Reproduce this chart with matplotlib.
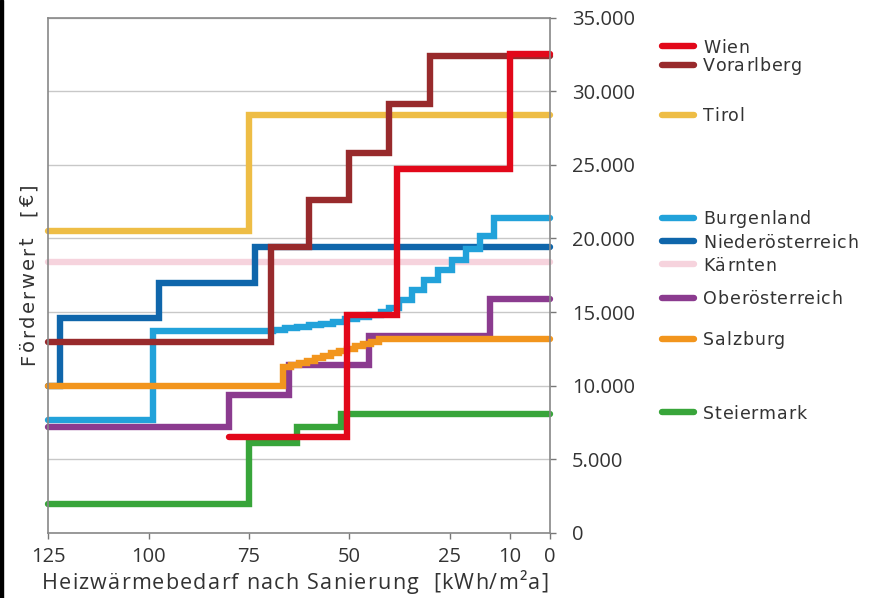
import numpy as np
import matplotlib
matplotlib.use('Agg')
import matplotlib.pyplot as plt
from matplotlib.patches import Rectangle
from matplotlib.ticker import FuncFormatter

# Heizwärmebedarf edges (kWh/m²a, from high to low) and Förderwert (EUR) per step
wien_x = [80, 50.5, 38, 10, 0]
wien_y = [6500, 14800, 24700, 32500]

vorarlberg_x = [125, 69.5, 60, 50, 40, 30, 0]
vorarlberg_y = [13000, 19400, 22600, 25800, 29100, 32400]

tirol_x = [125, 75, 0]
tirol_y = [20500, 28400]

burgenland_x = [125, 99, 69, 66, 63, 60, 57, 54, 51, 48, 45, 42, 40,
                37.5, 34.5, 31.5, 28, 24.5, 21, 17.5, 14, 0]
burgenland_y = [7700, 13700, 13800, 13900, 14000, 14100, 14200, 14350,
                14500, 14650, 14800, 15000, 15300, 15800, 16500, 17200,
                17850, 18550, 19250, 20150, 21400]

noe_x = [125, 122, 97.5, 73.5, 0]
noe_y = [10000, 14600, 17000, 19400]

kaernten_x = [125, 0]
kaernten_y = [18400]

ooe_x = [125, 80, 65, 45, 15, 0]
ooe_y = [7200, 9400, 11400, 13400, 15900]

salzburg_x = [125, 66.5, 64.5, 62.5, 60.5, 58.5, 56.5, 54.5, 52.5, 50.5,
              48.5, 46.5, 44.5, 42.5, 0]
salzburg_y = [10000, 11250, 11400, 11550, 11700, 11850, 12000, 12200,
              12350, 12500, 12700, 12850, 13000, 13200]

steiermark_x = [125, 75, 63, 52, 0]
steiermark_y = [2000, 6100, 7200, 8100]

x_ticks = [125, 100, 75, 50, 25, 10, 0]
y_ticks = [0, 5000, 10000, 15000, 20000, 25000, 30000, 35000]

# (name, x, y, colour, legend position in EUR)
series = [
    ('Kärnten', kaernten_x, kaernten_y, '#f6d3dd', 18250),
    ('Tirol', tirol_x, tirol_y, '#eebd45', 28400),
    ('Niederösterreich', noe_x, noe_y, '#0f66ab', 19800),
    ('Burgenland', burgenland_x, burgenland_y, '#22a2da', 21400),
    ('Vorarlberg', vorarlberg_x, vorarlberg_y, '#982a2c', 31800),
    ('Oberösterreich', ooe_x, ooe_y, '#8b3b8f', 15950),
    ('Steiermark', steiermark_x, steiermark_y, '#38a53a', 8200),
    ('Salzburg', salzburg_x, salzburg_y, '#f2951d', 13180),
    ('Wien', wien_x, wien_y, '#e2081a', 33050),
]

W, H = 879, 598
fig = plt.figure(figsize=(W / 100, H / 100), dpi=100)
ax = fig.add_axes([48.3 / W, 1 - 533 / H, (550 - 48.3) / W, (533 - 17.5) / H])
renderer = fig.canvas.get_renderer()


def advance(ch, **kw):
    # width a character adds between two x's
    t1 = fig.text(0, 0, 'x' + ch + 'x', **kw)
    t2 = fig.text(0, 0, 'xx', **kw)
    w = t1.get_window_extent(renderer).width - t2.get_window_extent(renderer).width
    t1.remove()
    t2.remove()
    return w


def spaced_text(px, py, s, track, rotation=0, center=False, **kw):
    # letter-spaced text, px/py in pixels from bottom-left, py is the baseline
    advs = [advance(c, **kw) for c in s]
    total = sum(advs) + track * (len(s) - 1)
    pos = -total / 2 if center else 0
    for c, a in zip(s, advs):
        x, y = (px + pos, py) if rotation == 0 else (px, py + pos)
        fig.text(x / W, y / H, c, rotation=rotation, rotation_mode='anchor',
                 ha='left', va='baseline', **kw)
        pos += a + track


for name, xs, ys, col, ly in series:
    ax.step(xs, list(ys) + [ys[-1]], where='post', color=col, lw=4.6,
            solid_capstyle='round', solid_joinstyle='miter', clip_on=False)
    # legend entry beside the plot
    ax.plot([-28, -36], [ly, ly], color=col, lw=4.6, solid_capstyle='round',
            clip_on=False)

ax.set_xlim(125, 0)
ax.set_ylim(0, 35000)
ax.set_xticks(x_ticks)
ax.set_yticks(y_ticks)
ax.yaxis.set_major_formatter(FuncFormatter(lambda v, p: f'{int(v):,}'.replace(',', '.')))
ax.yaxis.tick_right()
ax.tick_params(axis='both', labelsize=14.5, labelcolor='#333333', color='#777777',
               length=4, width=1)
ax.tick_params(axis='y', pad=12)
ax.tick_params(axis='x', pad=6)
for lab in ax.get_xticklabels() + ax.get_yticklabels():
    lab.set_family('Open Sans')
ax.grid(axis='y', color='#c8c8c8', lw=1)
ax.set_axisbelow(True)
for s in ax.spines.values():
    s.set_color('#888888')
    s.set_linewidth(1.2)

# legend labels
for name, xs, ys, col, ly in series:
    yb = ax.transData.transform((0, ly))[1] - 6.3
    spaced_text(703, yb, name, 1.0, fontsize=12.5, family='DejaVu Sans',
                color='#333333')

# axis titles
spaced_text(295, H - 589, 'Heizwärmebedarf nach Sanierung  [kWh/m²a]', 1.2,
            center=True, fontsize=15.5, family='Open Sans', color='#333333')
spaced_text(34, H - 274, 'Förderwert  [€]', 2.8, rotation=90, center=True,
            fontsize=14, family='DejaVu Sans', color='#333333')

# thin dark strip at the left edge of the picture
fig.patches.append(Rectangle((0, 0), 3 / W, 1, transform=fig.transFigure,
                             color='black', zorder=10))

fig.savefig('out.png', dpi=100)
